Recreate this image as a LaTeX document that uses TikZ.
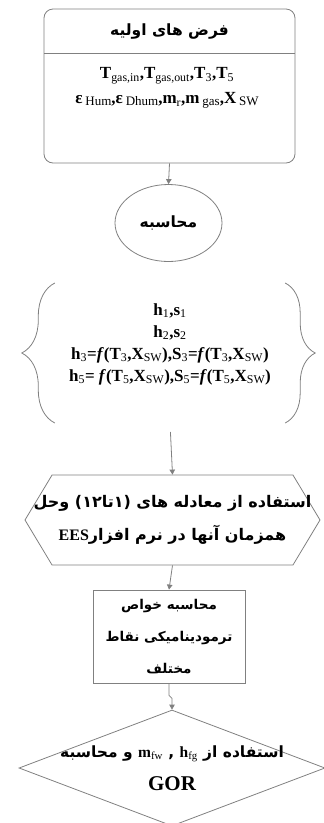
\documentclass[tikz,border=0pt]{standalone}
\usepackage{fontspec}
\setmainfont{Liberation Serif}
\newfontfamily\fafont[Script=Arabic]{DejaVu Sans}
\TeXXeTstate=1
\usetikzlibrary{shapes.geometric,shapes.symbols,arrows.meta,decorations.pathreplacing}

\newcommand{\lo}[1]{\textsubscript{\mdseries #1}}
\newcommand{\lobig}[1]{\,\raisebox{-0.3ex}{\mdseries\fontsize{13}{13}\selectfont #1}}
\newcommand{\fa}[1]{{\fafont\bfseries\beginR #1\endR}}
\newcommand{\la}[1]{\beginL{\rmfamily\bfseries #1}\endL{}}

\begin{document}
\begin{tikzpicture}[x=1pt,y=-1pt,
    every node/.style={align=center},
    edge/.style={draw=gray, line width=0.8pt},
    flow/.style={gray, line width=0.8pt, -{Triangle[length=5pt,width=5.5pt]}},
    latin/.style={font=\fontsize{17}{25}\selectfont\bfseries},
    farsi/.style={font=\fontsize{15.5}{33}\selectfont}]

  \useasboundingbox (0,0) rectangle (324,823);

  % ==================================================
  % Assumptions box (title + inputs)
  % ==================================================
  \node[edge, rounded corners=9pt, minimum width=251pt, minimum height=154pt]
    (assume) at (169.5,86) {};
  %    divider under the title
  \coordinate (divl) at (44,53);
  \coordinate (divr) at (295,53);
  \draw[edge] (divl) -- (divr);
  \node[farsi, font=\fontsize{15.5}{30}\selectfont] (title) at (169.5,31)
    {\fa{فرض های اولیه}};
  \node[latin] (inputs) at (167,88)
    {T\lo{gas,in},T\lo{gas,out},T\lo{3},T\lo{5}\\
     ε\lobig{Hum},ε\lobig{Dhum},m\lo{r},m\lobig{gas},X\lobig{SW}};

  % -- Calculation ellipse
  \node[edge, ellipse, minimum width=107pt, minimum height=77pt, farsi]
    (calc) at (168.5,223) {\fa{محاسبه}};

  % ==================================================
  % Properties between braces
  % ==================================================
  \node[minimum width=230pt, minimum height=130pt,
        font=\fontsize{17}{22}\selectfont\bfseries]
    (props) at (170,344)
    {h\lo{1},s\lo{1}\\
     h\lo{2},s\lo{2}\\
     h\lo{3}=\textit{f}(T\lo{3},X\lo{SW}),S\lo{3}=\textit{f}(T\lo{3},X\lo{SW})\\
     h\lo{5}= \textit{f}(T\lo{5},X\lo{SW}),S\lo{5}=\textit{f}(T\lo{5},X\lo{SW})};
  \coordinate (bl) at (props.south west |- 0,423);
  \coordinate (tl) at (props.north west |- 0,283);
  \coordinate (tr) at (props.north east |- 0,283);
  \coordinate (br) at (props.south east |- 0,423);
  \draw[edge, decorate, decoration={brace, amplitude=33pt, aspect=0.5}]
    (bl) -- (tl);
  \draw[edge, decorate, decoration={brace, amplitude=30pt, aspect=0.5}]
    (tr) -- (br);

  % ==================================================
  % Solving the equations (hexagon)
  % ==================================================
  \node[edge, signal, signal to=east and west, signal pointer angle=118,
        minimum width=295pt, minimum height=90pt]
    (solve) at (172.5,520) {};
  \node[farsi, font=\fontsize{16}{33}\selectfont] (solvetext) at (solve.center)
    {\fa{استفاده از معادله های (۱تا۱۲) وحل}\\
     \fa{همزمان آنها در نرم افزار\la{EES}}};

  % -- Thermodynamic properties box
  \node[edge, minimum width=152pt, minimum height=93pt]
    (proc) at (169,636.5) {};
  \node[farsi, font=\fontsize{13.5}{32}\selectfont] (proctext) at (proc.center)
    {\fa{محاسبه خواص}\\
     \fa{ترمودینامیکی نقاط}\\
     \fa{مختلف}};

  % -- GOR diamond (bottom half runs off the page)
  \node[edge, diamond, inner sep=0pt, minimum width=306pt, minimum height=116pt]
    (gor) at (172,768) {};
  \node[farsi] (gortext) at (gor.center)
    {\fa{استفاده از \la{h\lo{fg}} , \la{m\lo{fw}} و محاسبه}\\
     {\rmfamily\bfseries\fontsize{21}{25}\selectfont GOR}};

  % ==================================================
  % Arrows
  % ==================================================
  \draw[flow] (assume.south) -- (calc.north);
  \draw[flow, shorten <=9pt] (props.south |- bl) -- (solve.north);
  \draw[flow] (solve.south) -- (proc.north);
  \draw[flow] (proc.south) -- ++(0,12) -- ++(3,3) -- (gor.north);

\end{tikzpicture}
\end{document}
